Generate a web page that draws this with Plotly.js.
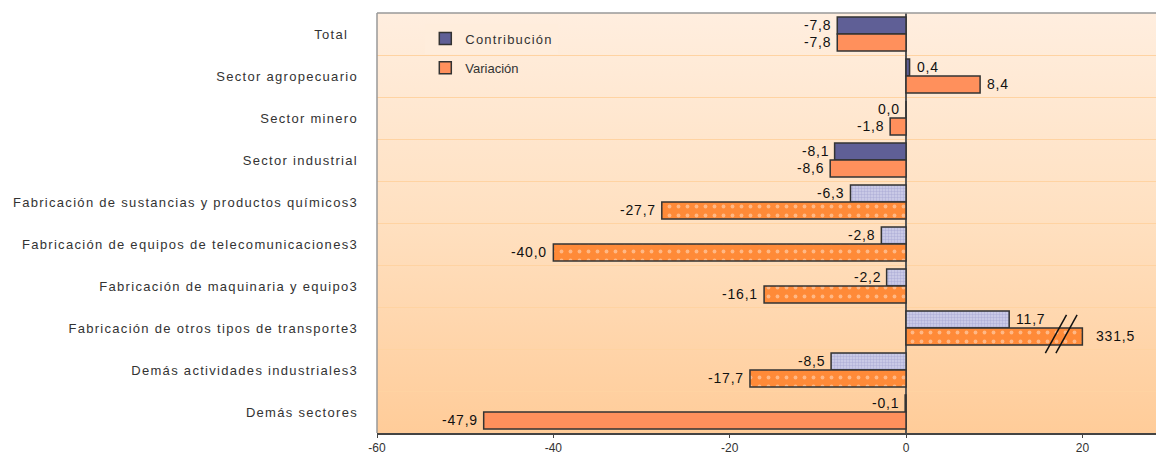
<!DOCTYPE html>
<html><head><meta charset="utf-8">
<script src="https://cdn.plot.ly/plotly-3.0.1.min.js"></script>
<style>
html,body{margin:0;padding:0;background:#fff;}
#wrap{position:relative;width:1156px;height:456px;overflow:hidden;}
#bg{position:absolute;left:377px;top:13px;width:779px;height:420px;background:linear-gradient(to bottom,#FFEEDF 0%,#FFE0C0 50%,#FFCC99 100%);}
#chart{position:absolute;left:0;top:0;width:1156px;height:456px;}
.ytick text{letter-spacing:1.3px;}
.annotation-text{letter-spacing:0.8px;}
.legendtext{letter-spacing:1.2px;}
</style></head>
<body><div id="wrap"><div id="bg"></div><div id="chart"></div></div>
<script>
const categories = ["Total  ","Sector agropecuario","Sector minero","Sector industrial",
 "Fabricación de sustancias y productos químicos3","Fabricación de equipos de telecomunicaciones3",
 "Fabricación de maquinaria y equipo3","Fabricación de otros tipos de transporte3",
 "Demás actividades industriales3","Demás sectores"];
const contribucion = [-7.8, 0.4, 0.0, -8.1, -6.3, -2.8, -2.2, 11.7, -8.5, -0.1];
const variacion    = [-7.8, 8.4, -1.8, -8.6, -27.7, -40.0, -16.1, 331.5, -17.7, -47.9];
const patterned    = [false,false,false,false,true,true,true,true,true,false];
const axisCap = 20; // axis break value

const shown = a => a.map(v => Math.min(v, axisCap));
const pick = (a, want) => shown(a).map((v,i) => patterned[i] === want ? v : null);
const fmt = v => v.toFixed(1).replace('.', ',');

const cDark='#5F5F96', cLight='#D0D0EA', oSolid='#FF905C', oPat='#FF8A38';
const W = 0.405;
const base = {type:'bar', orientation:'h', y:categories, hoverinfo:'none', width:W};
const traces = [
  Object.assign({}, base, {name:'Contribución', x:pick(contribucion,false), offset:-W,
    marker:{color:cDark, line:{color:'#333',width:1.5}}, legend:'legend'}),
  Object.assign({}, base, {name:'Contribución', x:pick(contribucion,true), offset:-W, showlegend:false,
    marker:{color:cLight, line:{color:'#333',width:1.5},
      pattern:{fillmode:'overlay', shape:'.', fgcolor:'#9494C8', size:3, solidity:0.5}}}),
  Object.assign({}, base, {name:'Variación', x:pick(variacion,false), offset:0,
    marker:{color:oSolid, line:{color:'#333',width:1.5}}, legend:'legend2'}),
  Object.assign({}, base, {name:'Variación', x:pick(variacion,true), offset:0, showlegend:false,
    marker:{color:oPat, line:{color:'#333',width:1.5},
      pattern:{fillmode:'overlay', shape:'.', fgcolor:'#FFE6D4', size:9, solidity:0.14}}})
];

const ann = [];
function addLabels(vals, yshift){
  vals.forEach((v,i)=>{
    const xv = Math.min(v, axisCap);
    const pos = v > 0;
    ann.push({x:xv, y:categories[i], xref:'x', yref:'y', text:fmt(v), showarrow:false,
      xanchor: pos?'left':'right', xshift: pos?(v>axisCap?12:5):-4, yshift:yshift,
      font:{family:'Liberation Sans, Arial, sans-serif', size:14, color:'#111'}});
  });
}
addLabels(contribucion, 9);
addLabels(variacion, -8);

const shapes = [
  {type:'line', xref:'paper', yref:'paper', x0:0, x1:1, y0:1, y1:1, line:{color:'#999',width:1.5}},
  {type:'line', xref:'paper', yref:'paper', x0:0, x1:0, y0:0, y1:1, line:{color:'#999',width:1.5}}
];
variacion.forEach((v,i)=>{
  if (v > axisCap){
    [-3.0,-1.8].forEach(d=>{
      shapes.push({type:'line', xref:'x', yref:'y', x0:axisCap+d-1.2, x1:axisCap+d+1.2, y0:i+0.6, y1:i-0.31,
        line:{color:'#111', width:1.5}});
    });
  }
});

const layout = {
  width:1156, height:456, margin:{l:377, r:0, t:13, b:23},
  paper_bgcolor:'rgba(0,0,0,0)', plot_bgcolor:'rgba(0,0,0,0)',
  barmode:'overlay',
  font:{family:'Liberation Sans, Arial, sans-serif', size:12, color:'#333'},
  xaxis:{range:[-60, 28.35], tickvals:[-60,-40,-20,0,20], ticktext:['-60','-40','-20','0','20'],
    showgrid:false, zeroline:true, zerolinecolor:'#555', zerolinewidth:1.5,
    showline:true, linecolor:'#444', linewidth:1.5, ticks:'outside', ticklen:3, tickcolor:'#444',
    ticklabelstandoff:0, tickfont:{size:12, color:'#333'}, fixedrange:true},
  yaxis:{type:'category', autorange:'reversed', tickson:'boundaries', showgrid:true, gridcolor:'#FFD3A2', gridwidth:1,
    ticks:'', showline:false, ticklabelstandoff:18, tickfont:{size:13, color:'#333'}, fixedrange:true},
  legend:{x:0.062, y:0.975, xanchor:'left', yanchor:'top', bgcolor:'#FFEDDC', borderwidth:0,
    font:{size:13, color:'#333'}, itemwidth:30},
  legend2:{x:0.062, y:0.905, xanchor:'left', yanchor:'top', bgcolor:'rgba(0,0,0,0)', borderwidth:0,
    font:{size:13, color:'#333'}, itemwidth:30},
  annotations:ann, shapes:shapes, showlegend:true
};
Plotly.newPlot('chart', traces, layout, {displayModeBar:false, staticPlot:true});
</script></body></html>
